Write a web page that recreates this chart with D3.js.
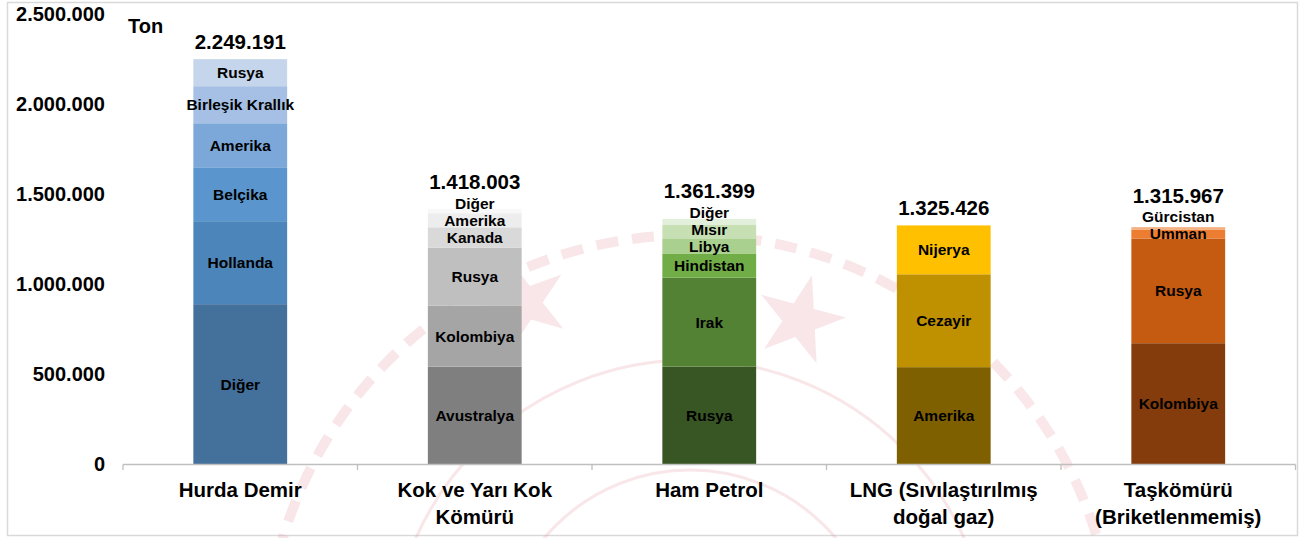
<!DOCTYPE html>
<html><head><meta charset="utf-8">
<script src="https://cdn.jsdelivr.net/npm/d3@7"></script>
<style>
body{margin:0;background:#fff}
svg{display:block}
text{font-family:"Liberation Sans",Arial,Helvetica,sans-serif;font-weight:bold;fill:#000}
</style>
</head><body>
<svg id="chart" width="1304" height="538"></svg>
<script>
// ---- DATA ----
const categories = ["Hurda Demir", "Kok ve Yarı Kok Kömürü", "Ham Petrol", "LNG (Sıvılaştırılmış doğal gaz)", "Taşkömürü (Briketlenmemiş)"];
const categoryLines = [["Hurda Demir"], ["Kok ve Yarı Kok", "Kömürü"], ["Ham Petrol"], ["LNG (Sıvılaştırılmış", "doğal gaz)"], ["Taşkömürü", "(Briketlenmemiş)"]];
const totals = [2249191, 1418003, 1361399, 1325426, 1315967];

// segments listed bottom -> top
const hurdaNames  = ["Diğer", "Hollanda", "Belçika", "Amerika", "Birleşik Krallık", "Rusya"];
const hurdaValues = [888000, 461000, 296000, 248000, 206000, 150191];
const kokNames    = ["Avustralya", "Kolombiya", "Rusya", "Kanada", "Amerika", "Diğer"];
const kokValues   = [541000, 339000, 322000, 113000, 78000, 25003];
const hamNames    = ["Rusya", "Irak", "Hindistan", "Libya", "Mısır", "Diğer"];
const hamValues   = [541000, 494000, 132000, 83000, 78000, 33399];
const lngNames    = ["Amerika", "Cezayir", "Nijerya"];
const lngValues   = [538000, 516000, 271426];
const taskNames   = ["Kolombiya", "Rusya", "Umman", "Gürcistan"];
const taskValues  = [671000, 582000, 50000, 12967];

const yTicks = [0, 500000, 1000000, 1500000, 2000000, 2500000];
const unitLabel = "Ton";

// ---- STYLE PALETTES ----
const palettes = [
  ["#44709C", "#4C85B9", "#5A96CD", "#7BA8D9", "#A5C0E4", "#C5D5EB"],
  ["#7F7F7F", "#A5A5A5", "#BFBFBF", "#D9D9D9", "#EDEDED", "#F8F8F8"],
  ["#375623", "#548235", "#70AD47", "#A9D08E", "#C6E0B4", "#E2EFDA"],
  ["#7F6000", "#BF9000", "#FFC000"],
  ["#843C0C", "#C55A11", "#ED7D31", "#F4B183"]
];
const segNames  = [hurdaNames, kokNames, hamNames, lngNames, taskNames];
const segValues = [hurdaValues, kokValues, hamValues, lngValues, taskValues];

// ---- CHART ----
const svg = d3.select("#chart");
svg.append("rect").attr("x", 7.5).attr("y", 2.5).attr("width", 1290).attr("height", 533)
  .attr("fill", "#fff").attr("stroke", "#D9D9D9").attr("stroke-width", 1.5);

// very faint watermark seal (shapes only)
const wm = svg.append("g").attr("opacity", 0.18);
const wmCx = 690, wmCy = 660;
wm.append("circle").attr("cx", wmCx).attr("cy", wmCy).attr("r", 425)
  .attr("fill", "none").attr("stroke", "#E07A86").attr("stroke-width", 10)
  .attr("stroke-dasharray", "22 14");
wm.append("circle").attr("cx", wmCx).attr("cy", wmCy).attr("r", 300)
  .attr("fill", "none").attr("stroke", "#E07A86").attr("stroke-width", 3);
wm.append("circle").attr("cx", wmCx).attr("cy", wmCy).attr("r", 190)
  .attr("fill", "none").attr("stroke", "#E07A86").attr("stroke-width", 3);
const star = d3.symbol().type(d3.symbolStar).size(2400);
[[525, 303, -20], [800, 320, 15]].forEach(s => {
  wm.append("path").attr("d", star()).attr("fill", "#E07A86")
    .attr("transform", `translate(${s[0]},${s[1]}) rotate(${s[2]})`);
});

const y = d3.scaleLinear().domain([0, 2500000]).range([464, 14]);
const x = d3.scaleBand().domain(categories).range([123, 1295.5]).paddingInner(0.6).paddingOuter(0.3);
const loc = d3.formatLocale({decimal: ",", thousands: ".", grouping: [3], currency: ["", ""]});
const fmt = loc.format(",d");

// Y axis (labels only)
const yAxis = svg.append("g").attr("transform", "translate(108,0)")
  .call(d3.axisLeft(y).tickValues(yTicks).tickFormat(fmt).tickSize(0).tickPadding(3));
yAxis.select(".domain").remove();
yAxis.selectAll("text").style("font-size", "20px").style("font-family", "'Liberation Sans',Arial,sans-serif")
  .style("font-weight", "bold").attr("fill", "#000");

svg.append("text").attr("x", 128).attr("y", 33).style("font-size", "20px").text(unitLabel);

// bars
const bw = x.bandwidth();
categories.forEach((cat, ci) => {
  const vals = segValues[ci], names = segNames[ci];
  const cum = [0, ...d3.cumsum(vals)];
  const g = svg.append("g");
  const segs = vals.map((v, i) => ({name: names[i], y0: cum[i], y1: cum[i + 1], color: palettes[ci][i]}));
  g.selectAll("rect").data(segs).join("rect")
    .attr("x", x(cat)).attr("width", bw)
    .attr("y", d => y(d.y1)).attr("height", d => y(d.y0) - y(d.y1))
    .attr("fill", d => d.color);
  // label layout: centred, pushed up when crowded
  let prev = Infinity;
  segs.forEach(d => {
    let cy = (y(d.y0) + y(d.y1)) / 2;
    cy = Math.min(cy, prev - 17);
    d.cy = cy; prev = cy;
  });
  g.selectAll("text").data(segs).join("text")
    .attr("x", x(cat) + bw / 2).attr("y", d => d.cy).attr("dy", "0.35em")
    .attr("text-anchor", "middle").style("font-size", "15.5px")
    .text(d => d.name);
  const topY = y(totals[ci]);
  const topLabel = segs[segs.length - 1].cy;
  svg.append("text").attr("x", x(cat) + bw / 2)
    .attr("y", Math.min(topY, topLabel - 4) - 10)
    .attr("text-anchor", "middle").style("font-size", "20.5px")
    .text(fmt(totals[ci]));
});

// X axis line + boundary ticks
const x0 = x.range()[0], x1 = x.range()[1];
svg.append("line").attr("x1", x0).attr("x2", x1).attr("y1", 464.5).attr("y2", 464.5)
  .attr("stroke", "#BFBFBF").attr("stroke-width", 1.3);
const step = x.step();
const bounds = categories.map(c => x(c) - step * 0.3).concat([x1]);
svg.selectAll(".xtick").data(bounds).join("line").attr("class", "xtick")
  .attr("x1", d => d).attr("x2", d => d).attr("y1", 464.5).attr("y2", 470)
  .attr("stroke", "#BFBFBF").attr("stroke-width", 1.3);

// category labels
categories.forEach((cat, ci) => {
  const t = svg.append("text").attr("text-anchor", "middle").style("font-size", "20.5px");
  categoryLines[ci].forEach((line, li) => {
    t.append("tspan").attr("x", x(cat) + bw / 2).attr("y", 497 + li * 26.5).text(line);
  });
});
</script>
</body></html>
